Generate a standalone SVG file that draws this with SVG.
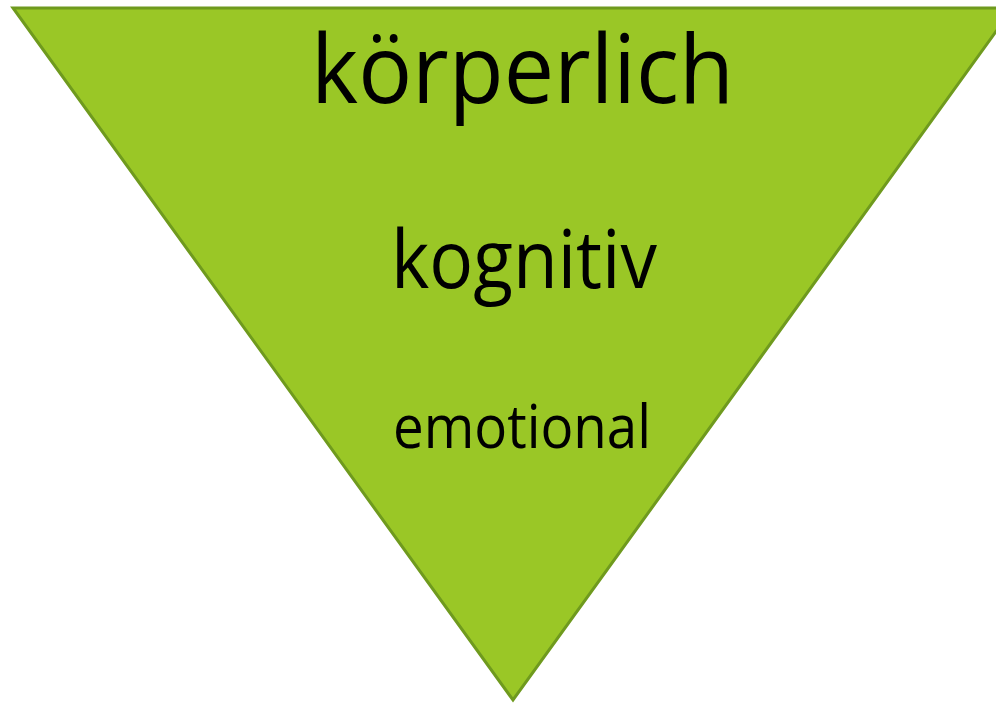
<svg xmlns="http://www.w3.org/2000/svg" width="996" height="704" viewBox="0 0 996 704">
<style>
.tri{fill:#9AC726;stroke:#6F9A1E;stroke-width:3;stroke-linejoin:miter}
.t{font-family:"Open Sans","Liberation Sans",sans-serif;fill:#000}
</style>
<rect width="996" height="704" fill="#fff"/>
<g id="triangle">
<polygon class="tri" points="13,8 1013,8 513,700"/>
</g>
<g id="label-koerperlich">
<text class="t" x="311" y="103" font-size="95" textLength="423" lengthAdjust="spacingAndGlyphs">körperlich</text>
</g>
<g id="label-kognitiv">
<text class="t" x="391" y="288" font-size="81" textLength="266" lengthAdjust="spacingAndGlyphs">kognitiv</text>
</g>
<g id="label-emotional">
<text class="t" x="393" y="448" font-size="60" textLength="258" lengthAdjust="spacingAndGlyphs">emotional</text>
</g>
<g id="connectors"/>
</svg>
